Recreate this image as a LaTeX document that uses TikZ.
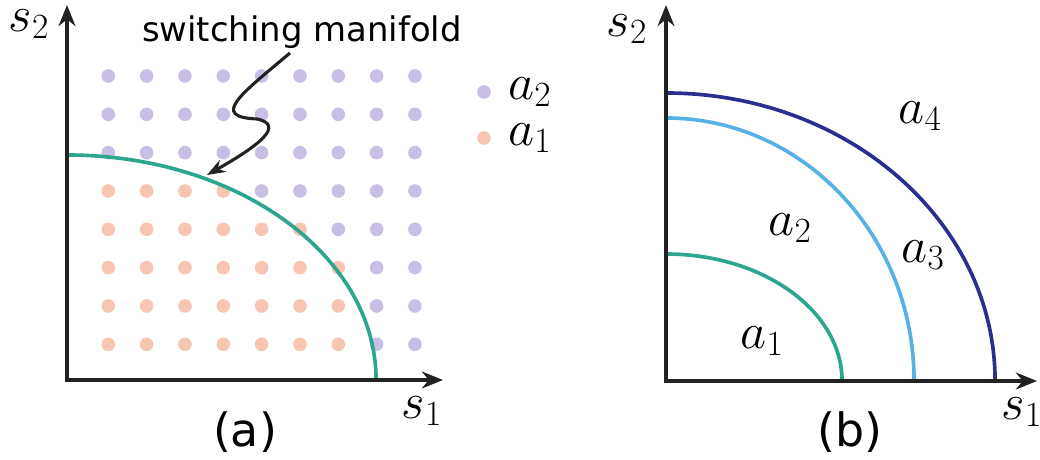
\RequirePackage{fix-cm}
\documentclass[tikz,border=0pt]{standalone}
\usepackage{fontspec}
\newfontfamily\labelfont{DejaVu Sans}
\usetikzlibrary{arrows.meta, positioning}
\definecolor{axisGray}{RGB}{34, 34, 34}
\definecolor{manifoldGreen}{RGB}{44, 166, 142}
\definecolor{skyBlue}{RGB}{86, 177, 228}
\definecolor{navyBlue}{RGB}{42, 47, 143}
\definecolor{dotPurple}{RGB}{201, 190, 230}
\definecolor{dotOrange}{RGB}{247, 198, 178}

\begin{document}
\begin{tikzpicture}[
    x=0.025cm, y=0.025cm,
    axis/.style={draw=axisGray, line width=2.6pt,
      {Stealth[length=15pt, width=12pt]}-{Stealth[length=15pt, width=12pt]}},
    boundary/.style={line width=2.6pt},
    dotA/.style={fill=dotOrange},
    dotB/.style={fill=dotPurple},
    legdot/.style={circle, inner sep=0pt, minimum size=0.34cm},
    mathlbl/.style={inner sep=0pt, font=\fontsize{36}{40}\selectfont},
    caption/.style={inner sep=0pt, anchor=base, font=\labelfont\fontsize{32.6}{38}\selectfont},
    pointer/.style={draw=axisGray, line width=2.2pt, -{Stealth[length=13pt, width=9.5pt]}},
  ]
  \useasboundingbox (0,0) rectangle (1040,460);

  % panel (a): sampled actions
  \coordinate (Oa) at (67,80);
  \foreach \r/\n in {0/0, 1/0, 2/0, 3/4, 4/6, 5/7, 6/7, 7/7}
    \foreach \c in {0,...,8} {
      \edef\dotstyle{\ifnum\c<\n dotA\else dotB\fi}
      \fill[\dotstyle] ({108.3+38.33*\c},{384-38.33*\r}) circle[radius=0.17cm];
    }
  \draw[boundary, manifoldGreen] (67,305)
    arc[start angle=90, end angle=0, x radius=7.725cm, y radius=5.625cm];
  \draw[axis] (67,455) -- (Oa) -- (443,80);

  \node[mathlbl] (s2a) at (29,436) {$s_2$};
  \node[mathlbl] (s1a) at (422,49) {$s_1$};
  \node[caption] (capa) at (245,13) {(a)};

  % pointer to the manifold
  \node[inner sep=0pt, anchor=base, font=\labelfont\fontsize{24.1}{28}\selectfont]
    (manifold) at (302,418) {switching manifold};
  \coordinate (wigstart) at (290,407);
  \coordinate (wigtip) at (207,285);
  \draw[pointer] (wigstart) .. controls (240,365) and (210,343) .. (257,341)
    .. controls (285,335) and (260,315) .. (wigtip);

  % legend
  \node[legdot, fill=dotPurple] (leg2) at (484,368) {};
  \node[legdot, fill=dotOrange] (leg1) at (484,322) {};
  \node[mathlbl, right=12pt of leg2] (la2) {$a_2$};
  \node[mathlbl, right=12pt of leg1] (la1) {$a_1$};

  % panel (b): several manifolds
  \coordinate (Ob) at (666,79);
  \draw[boundary, manifoldGreen] (666,206)
    arc[start angle=90, end angle=0, x radius=4.4cm, y radius=3.175cm];
  \draw[boundary, skyBlue] (666,342)
    arc[start angle=90, end angle=0, x radius=6.2cm, y radius=6.575cm];
  \draw[boundary, navyBlue] (666,367)
    arc[start angle=90, end angle=0, x radius=8.225cm, y radius=7.2cm];
  \draw[axis] (666,455) -- (Ob) -- (1037,79);

  \node[mathlbl] (s2b) at (627,431) {$s_2$};
  \node[mathlbl] (s1b) at (1022,48) {$s_1$};
  \node[mathlbl] (b1) at (762,119) {$a_1$};
  \node[mathlbl] (b2) at (790,232) {$a_2$};
  \node[mathlbl] (b3) at (923,205) {$a_3$};
  \node[mathlbl] (b4) at (920,344) {$a_4$};
  \node[caption] (capb) at (850,13) {(b)};
\end{tikzpicture}
\end{document}
